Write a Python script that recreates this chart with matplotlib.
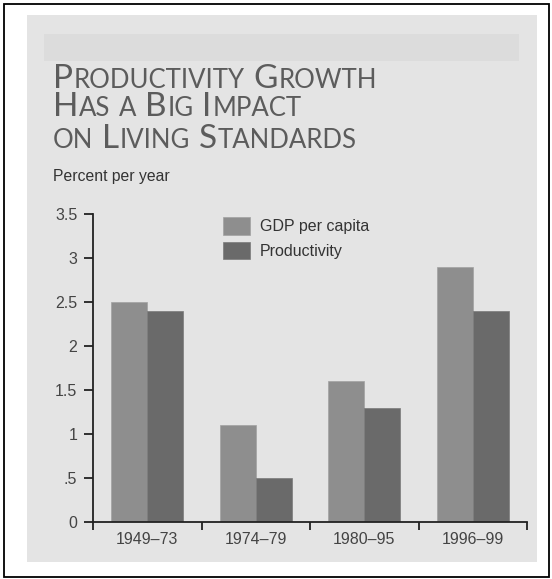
import matplotlib
matplotlib.use("Agg")
import matplotlib.pyplot as plt
import numpy as np
from matplotlib.patches import Rectangle

# data
periods = ["1949\u201373", "1974\u201379", "1980\u201395", "1996\u201399"]
gdp_per_capita = [2.5, 1.1, 1.6, 2.9]
productivity = [2.4, 0.5, 1.3, 2.4]
y_ticks = [0, 0.5, 1, 1.5, 2, 2.5, 3, 3.5]
y_tick_labels = ["0", ".5", "1", "1.5", "2", "2.5", "3", "3.5"]

W, H = 552, 579
GDP_COLOR = "#8e8e8e"
PROD_COLOR = "#6a6a6a"
PANEL = "#e4e4e4"
STRIP = "#dcdcdc"
LABEL_FONT = ["Liberation Sans", "DejaVu Sans"]


def fx(x):
    return x / W


def fy(y):
    return 1 - y / H


fig = plt.figure(figsize=(W / 100, H / 100), dpi=100, facecolor="white")

# background panel, top strip and the outer frame (behind the axes)
fig.patches.append(Rectangle((fx(27), fy(562)), fx(537) - fx(27), fy(15) - fy(562),
                             transform=fig.transFigure, facecolor=PANEL, edgecolor="none", zorder=-2))
fig.patches.append(Rectangle((fx(44), fy(61)), fx(519) - fx(44), fy(34) - fy(61),
                             transform=fig.transFigure, facecolor=STRIP, edgecolor="none", zorder=-1))
fig.patches.append(Rectangle((fx(4), fy(577)), fx(549) - fx(4), fy(4) - fy(577),
                             transform=fig.transFigure, facecolor="none", edgecolor="black",
                             linewidth=1.3, zorder=5))

# title in small caps: big capital + smaller capitals, placed piece by piece
renderer = fig.canvas.get_renderer()
BIG, SMALL = 24, 18.5
title_lines = [
    [("P", BIG), ("RODUCTIVITY", SMALL), (" ", SMALL), ("G", BIG), ("ROWTH", SMALL)],
    [("H", BIG), ("AS", SMALL), (" ", SMALL), ("A", SMALL), (" ", SMALL), ("B", BIG), ("IG", SMALL),
     (" ", SMALL), ("I", BIG), ("MPACT", SMALL)],
    [("ON", SMALL), (" ", SMALL), ("L", BIG), ("IVING", SMALL), (" ", SMALL), ("S", BIG),
     ("TANDARDS", SMALL)],
]
baselines = [88, 116, 148]
for line, base in zip(title_lines, baselines):
    x = 53
    for piece, size in line:
        if piece == " ":
            x += size * 100 / 72 * 0.3
            continue
        t = fig.text(fx(x), fy(base), piece, fontsize=size, family=["Lato", "DejaVu Sans"],
                     fontweight="normal", color="#5c5c5c", va="baseline", ha="left")
        bb = t.get_window_extent(renderer)
        x += bb.width + size * 100 / 72 * 0.03

fig.text(fx(53), fy(181), "Percent per year", fontsize=11.3, family=LABEL_FONT,
         color="#333333", va="baseline", ha="left")

# bar chart
ax = fig.add_axes([fx(93), fy(522), fx(527) - fx(93), fy(214) - fy(522)])
ax.set_facecolor("none")
idx = np.arange(len(periods))
w = 0.33
ax.bar(idx - w / 2, gdp_per_capita, w, color=GDP_COLOR, edgecolor="#a2a2a2",
       linewidth=0.5, label="GDP per capita")
ax.bar(idx + w / 2, productivity, w, color=PROD_COLOR, edgecolor="#7a7a7a",
       linewidth=0.5, label="Productivity")

ax.set_xlim(-0.5, len(periods) - 0.5)
ax.set_ylim(0, 3.5)
for s in ["top", "right"]:
    ax.spines[s].set_visible(False)
for s in ["left", "bottom"]:
    ax.spines[s].set_color("#222222")
    ax.spines[s].set_linewidth(1.3)

ax.set_yticks(y_ticks)
ax.set_yticklabels(y_tick_labels, family=LABEL_FONT, fontsize=11.5, color="#444444")
ax.tick_params(axis="y", length=6.3, width=1.3, color="#222222", pad=5)

ax.set_xticks(idx)
ax.set_xticklabels(periods, family=LABEL_FONT, fontsize=11.5, color="#444444")
ax.set_xticks(np.arange(len(periods) + 1) - 0.5, minor=True)
ax.tick_params(axis="x", which="major", length=0, pad=7)
ax.tick_params(axis="x", which="minor", length=6, width=1.3, color="#222222")

leg = ax.legend(loc="upper left", bbox_to_anchor=(fx(223), fy(217)), bbox_transform=fig.transFigure,
                frameon=False, borderpad=0, borderaxespad=0,
                handlelength=1.69, handleheight=1.31, handletextpad=0.62, labelspacing=0.44,
                prop={"family": LABEL_FONT, "size": 11.5})
for t in leg.get_texts():
    t.set_color("#333333")

fig.savefig("out.png", dpi=100, facecolor="white")
